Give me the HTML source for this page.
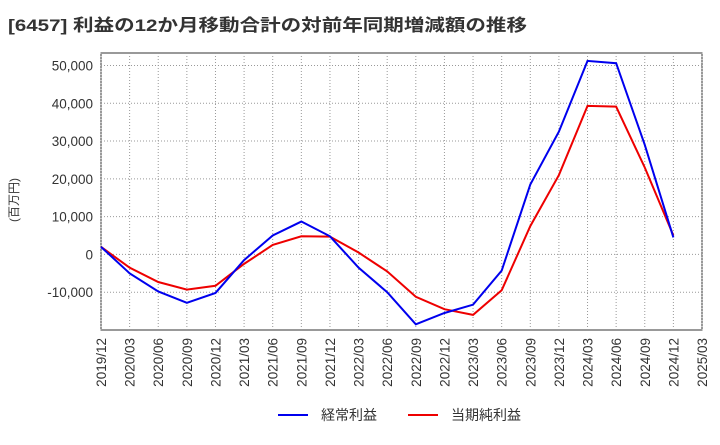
<!DOCTYPE html>
<html><head><meta charset="utf-8">
<style>
body{margin:0;background:#fff;font-family:"Liberation Sans","Noto Sans CJK JP",sans-serif;}
</style></head>
<body>
<svg id="c" width="720" height="440" xmlns="http://www.w3.org/2000/svg" font-family="'Liberation Sans','Noto Sans CJK JP',sans-serif">
<text x="8" y="31" font-size="17" font-weight="bold" fill="#333" textLength="519" lengthAdjust="spacingAndGlyphs">[6457]  利益の12か月移動合計の対前年同期増減額の推移</text>
<text transform="translate(18,200) rotate(-90)" font-size="12" fill="#333" text-anchor="middle">(百万円)</text>
<g id="grid"></g><g id="axes"></g><g id="series"></g>
<g>
<line x1="278" y1="415" x2="308" y2="415" stroke="#0000ee" stroke-width="2"/>
<text x="321" y="420" font-size="14" fill="#333">経常利益</text>
<line x1="408" y1="415" x2="438" y2="415" stroke="#ee0000" stroke-width="2"/>
<text x="451" y="420" font-size="14" fill="#333">当期純利益</text>
</g>
</svg>
<script>
const categories=["2019/12","2020/03","2020/06","2020/09","2020/12","2021/03","2021/06","2021/09","2021/12","2022/03","2022/06","2022/09","2022/12","2023/03","2023/06","2023/09","2023/12","2024/03","2024/06","2024/09","2024/12","2025/03"];
const keijo=[2000,-5000,-9800,-12800,-10200,-1500,5000,8700,4800,-3500,-10000,-18500,-15500,-13300,-4300,18500,32500,51200,50600,29000,4500];
const junri=[2000,-3500,-7300,-9300,-8300,-2500,2500,4800,4700,500,-4500,-11200,-14500,-16000,-9500,7500,21000,39300,39100,23000,5000];
const yTicks=[-10000,0,10000,20000,30000,40000,50000];
const L=101,R=702,T=53,B=330,yMin=-20000,yMax=53300;
const x=i=>L+i*(R-L)/(categories.length-1);
const y=v=>B-(v-yMin)/(yMax-yMin)*(B-T);
const NS="http://www.w3.org/2000/svg";
function mk(p,t,a){const e=document.createElementNS(NS,t);for(const k in a)e.setAttribute(k,a[k]);p.appendChild(e);return e;}
const g=document.getElementById('grid'),ax=document.getElementById('axes'),s=document.getElementById('series');
const bg=mk(g,'rect',{x:L,y:T,width:R-L,height:B-T,fill:'#fff',stroke:'#333'});


categories.forEach((c,i)=>{
 const gl=mk(g,'line',{x1:x(i),x2:x(i),y1:T,y2:B,stroke:'#999','stroke-dasharray':'1,2'});
 
 
 const t=mk(ax,'text',{transform:`translate(${x(i)+5},${B+8}) rotate(-90)`,'font-size':13.5,fill:'#333','text-anchor':'end'});
 t.textContent=c;
 
 
});
yTicks.forEach(v=>{
 const gl=mk(g,'line',{x1:L,x2:R,y1:y(v),y2:y(v),stroke:'#999','stroke-dasharray':'1,2'});
 
 
 const t=mk(ax,'text',{x:L-8,y:y(v)+5,'font-size':13.5,fill:'#333','text-anchor':'end'});
 t.textContent=v.toLocaleString('en-US');
 
 
});
function line(d,col,name){
 const p=mk(s,'polyline',{points:d.map((v,i)=>x(i)+','+y(v)).join(' '),fill:'none',stroke:col,'stroke-width':2});
 
 
}
line(junri,'#ee0000','series-junri-line');
line(keijo,'#0000ee','series-keijo-line');
</script>
</body></html>
